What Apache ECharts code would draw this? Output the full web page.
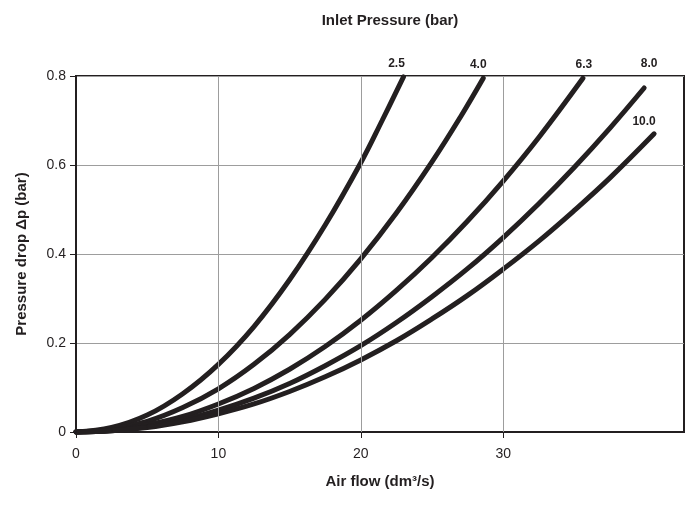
<!DOCTYPE html>
<html><head><meta charset="utf-8">
<script src="https://cdn.jsdelivr.net/npm/echarts@6/dist/echarts.min.js"></script>
<style>html,body{margin:0;padding:0;background:#fff}#c{width:695px;height:523px}</style>
</head><body><div id="c"></div>
<script>
// Curve names (inlet pressure, bar)
var seriesNames = ['2.5', '4.0', '6.3', '8.0', '10.0'];
// Air flow (dm3/s) sample points per curve
var flow25  = [0, 2.5, 5, 7.5, 10, 12.5, 15, 17.5, 20, 21.5, 23];
var flow40  = [0, 2.5, 5, 7.5, 10, 12.5, 15, 17.5, 20, 22.5, 25, 27, 28.6];
var flow63  = [0, 2.5, 5, 7.5, 10, 12.5, 15, 17.5, 20, 22.5, 25, 27.5, 30, 32.5, 35.6];
var flow80  = [0, 2.5, 5, 7.5, 10, 12.5, 15, 17.5, 20, 22.5, 25, 27.5, 30, 32.5, 35, 37.5, 39.9];
var flow100 = [0, 2.5, 5, 7.5, 10, 12.5, 15, 17.5, 20, 22.5, 25, 27.5, 30, 32.5, 35, 37.5, 40.6];
// Pressure drop (bar)
var drop25  = [0, 0.010, 0.038, 0.086, 0.152, 0.237, 0.342, 0.465, 0.605, 0.700, 0.798];
var drop40  = [0, 0.006, 0.024, 0.055, 0.097, 0.152, 0.219, 0.298, 0.389, 0.492, 0.607, 0.708, 0.795];
var drop63  = [0, 0.004, 0.016, 0.035, 0.063, 0.098, 0.141, 0.192, 0.251, 0.318, 0.392, 0.474, 0.564, 0.662, 0.795];
var drop80  = [0, 0.003, 0.012, 0.027, 0.049, 0.076, 0.109, 0.149, 0.194, 0.246, 0.304, 0.367, 0.437, 0.513, 0.595, 0.683, 0.773];
var drop100 = [0, 0.003, 0.010, 0.023, 0.041, 0.063, 0.091, 0.124, 0.162, 0.205, 0.254, 0.307, 0.366, 0.429, 0.498, 0.571, 0.670];
// Axis ticks
var xTicks = [0, 10, 20, 30];
var yTicks = [0, 0.2, 0.4, 0.6, 0.8];

var flows = [flow25, flow40, flow63, flow80, flow100];
var drops = [drop25, drop40, drop63, drop80, drop100];
var labelOffsets = [[-7, -7], [-5, -7], [1, -7], [5, -18], [-10, -6]];

var ink = '#231f20';
var font = 'Liberation Sans, Arial, Helvetica, sans-serif';

var series = seriesNames.map(function (name, s) {
  var xs = flows[s], ys = drops[s];
  var data = xs.map(function (x, i) {
    if (i === xs.length - 1) {
      return { value: [x, ys[i]], label: { show: true, position: 'top', distance: 0, offset: labelOffsets[s],
        formatter: name, color: ink, fontSize: 12, fontWeight: 'bold', fontFamily: font } };
    }
    return [x, ys[i]];
  });
  return {
    name: name, type: 'line', data: data, smooth: 0.4, showSymbol: true, showAllSymbol: true,
    symbol: 'circle', symbolSize: 1,
    itemStyle: { color: ink },
    lineStyle: { color: ink, width: 5, cap: 'round' }, silent: true, clip: false,
    markLine: s === 0 ? {
      silent: true, symbol: 'none', label: { show: false },
      lineStyle: { color: '#9d9d9d', width: 1, type: 'solid' },
      data: xTicks.filter(function (v) { return v > 0; }).map(function (v) { return { xAxis: v }; })
    } : undefined
  };
});

var chart = echarts.init(document.getElementById('c'));
chart.setOption({
  animation: false,
  backgroundColor: '#fff',
  title: { text: 'Inlet Pressure (bar)', left: 385, top: 8, textAlign: 'center',
    textStyle: { fontSize: 15, fontWeight: 'bold', color: ink, fontFamily: font } },
  grid: { left: 76, right: 11, top: 76, bottom: 91, show: true, borderWidth: 2, borderColor: ink },
  xAxis: {
    type: 'value', min: 0, max: 42.7, interval: 10,
    name: 'Air flow (dm³/s)', nameLocation: 'middle', nameGap: 42,
    nameTextStyle: { fontSize: 15, fontWeight: 'bold', color: ink, fontFamily: font },
    axisLine: { show: true, lineStyle: { color: ink, width: 2 } },
    axisTick: { show: true, length: 6, lineStyle: { color: ink, width: 1 }, customValues: xTicks },
    axisLabel: { color: ink, fontSize: 14, fontFamily: font, margin: 15, customValues: xTicks },
    splitLine: { show: false }
  },
  yAxis: {
    type: 'value', min: 0, max: 0.8, interval: 0.2,
    name: 'Pressure drop Δp (bar)', nameLocation: 'middle', nameGap: 47,
    nameTextStyle: { fontSize: 15, fontWeight: 'bold', color: ink, fontFamily: font },
    axisLine: { show: true, lineStyle: { color: ink, width: 2 } },
    axisTick: { show: true, length: 6, lineStyle: { color: ink, width: 1 } },
    axisLabel: { color: ink, fontSize: 14, fontFamily: font, margin: 10,
      formatter: function (v) { return v === 0 ? '0' : v.toFixed(1); } },
    splitLine: { show: true, lineStyle: { color: '#9d9d9d', width: 1 } }
  },
  series: series
});
</script></body></html>
